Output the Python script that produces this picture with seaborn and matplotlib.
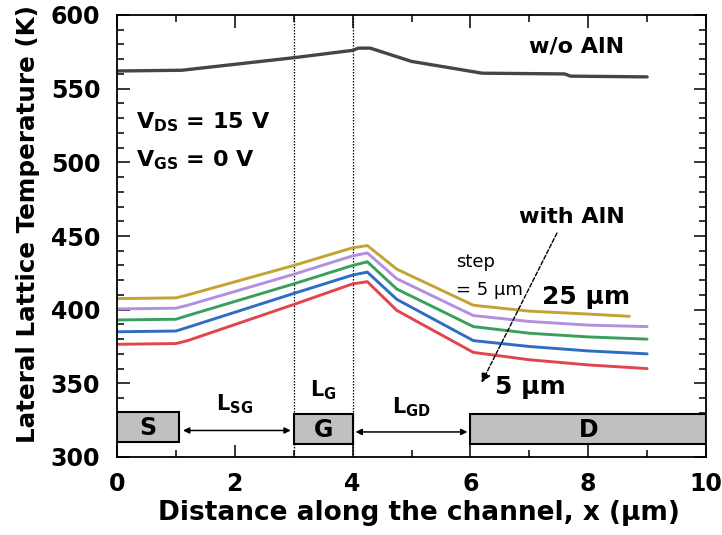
import matplotlib
matplotlib.use("Agg")
import matplotlib.pyplot as plt
from matplotlib.patches import Rectangle
from matplotlib.ticker import MultipleLocator
import numpy as np
import pandas as pd
import seaborn as sns

# Lateral lattice temperature along the channel
x_wo = [0.0, 1.1, 3.0, 4.0, 4.1, 4.3, 5.0, 6.2, 7.6, 7.7, 9.0]
t_wo = [562, 562.5, 571, 576, 577.5, 577.5, 568.5, 560.5, 560, 558.5, 558]

x_aln = [0.0, 1.0, 1.2, 3.0, 4.0, 4.25, 4.75, 6.05, 7.0, 8.0, 9.0]
x_aln_25 = [0.0, 1.0, 1.2, 3.0, 4.0, 4.25, 4.75, 6.05, 7.0, 8.0, 8.7]
t_5um = [376.5, 377, 379, 403.5, 417.5, 419, 399.5, 371, 366, 362.5, 360]
t_10um = [385, 385.5, 388, 411, 423.5, 425.5, 407, 379, 375, 372, 370]
t_15um = [393, 393.5, 396, 417.5, 430, 432.5, 414, 388.5, 384, 381.5, 380]
t_20um = [400.5, 401, 403, 424, 436.5, 438.5, 421, 396, 392, 389.5, 388.5]
t_25um = [407.5, 408, 410, 430, 442, 443.5, 427.5, 403, 399, 397, 395.5]

aln_labels = ["5 µm", "10 µm", "15 µm", "20 µm", "25 µm"]
aln_colors = ["#e0454e", "#2f6dc4", "#3a9e5c", "#b48fe0", "#c4a335"]

# Device regions: source, gate, drain
region_names = ["S", "G", "D"]
region_x0 = [0.0, 3.0, 6.0]
region_x1 = [1.05, 4.0, 10.0]
region_bottom = [310.0, 308.5, 308.5]
region_top = [330.5, 329.5, 329.5]
gate_edges = [3.0, 4.0]

rows = []
for lab, xs, ts in zip(aln_labels,
                       [x_aln, x_aln, x_aln, x_aln, x_aln_25],
                       [t_5um, t_10um, t_15um, t_20um, t_25um]):
    for xv, tv in zip(xs, ts):
        rows.append({"x": xv, "T": tv, "AlN": lab})
df_aln = pd.DataFrame(rows)
df_wo = pd.DataFrame({"x": x_wo, "T": t_wo})

sns.set_theme(style="ticks")
plt.rcParams["font.family"] = ["DejaVu Sans"]
plt.rcParams["font.weight"] = "bold"
plt.rcParams["mathtext.default"] = "bf"
plt.rcParams["text.color"] = "black"
plt.rcParams["axes.labelcolor"] = "black"
plt.rcParams["xtick.color"] = "black"
plt.rcParams["ytick.color"] = "black"
plt.rcParams["xtick.labelcolor"] = "black"
plt.rcParams["ytick.labelcolor"] = "black"

fig = plt.figure(figsize=(7.22, 5.35), dpi=100)
ax = fig.add_axes([117 / 722, 1 - 457 / 535, (706 - 117) / 722, (457 - 15) / 535])

sns.lineplot(data=df_wo, x="x", y="T", color="#454545", lw=2.4,
             sort=False, estimator=None, ax=ax)
sns.lineplot(data=df_aln, x="x", y="T", hue="AlN", hue_order=aln_labels,
             palette=aln_colors, lw=2.1, sort=False, estimator=None,
             legend=False, ax=ax)

for gx in gate_edges:
    ax.axvline(gx, color="black", ls=(0, (1.2, 1.2)), lw=0.9, zorder=1)

for name, x0, x1, y0, y1 in zip(region_names, region_x0, region_x1,
                                region_bottom, region_top):
    ax.add_patch(Rectangle((x0, y0), x1 - x0, y1 - y0, facecolor="#c0c0c0",
                           edgecolor="black", lw=1.5, zorder=3))
    ax.text((x0 + x1) / 2, (y0 + y1) / 2 - 0.5, name, ha="center", va="center",
            fontsize=17, fontweight="bold", zorder=4)

# Spacing arrows between the contacts
arrow_kw = dict(arrowstyle="<|-|>", color="black", lw=1.1,
                mutation_scale=9, shrinkA=0, shrinkB=0)
ax.annotate("", xy=(2.95, 318), xytext=(1.12, 318), arrowprops=arrow_kw)
ax.annotate("", xy=(5.95, 317), xytext=(4.05, 317), arrowprops=arrow_kw)
ax.text(2.0, 335.5, "L$_{SG}$", ha="center", va="center", fontsize=15)
ax.text(3.5, 345.5, "L$_{G}$", ha="center", va="center", fontsize=15)
ax.text(5.0, 333.5, "L$_{GD}$", ha="center", va="center", fontsize=15)

ax.text(0.33, 527.5, "V$_{DS}$ = 15 V", ha="left", va="center", fontsize=16)
ax.text(0.33, 501.5, "V$_{GS}$ = 0 V", ha="left", va="center", fontsize=16)
ax.text(7.0, 578.5, "w/o AlN", ha="left", va="center", fontsize=16)
ax.text(7.73, 463, "with AlN", ha="center", va="center", fontsize=16)
ax.text(5.76, 432.5, "step", ha="left", va="center", fontsize=13,
        fontweight="normal")
ax.text(5.76, 413.5, "= 5 µm", ha="left", va="center", fontsize=13,
        fontweight="normal")
ax.text(7.22, 408.5, "25 µm", ha="left", va="center", fontsize=18)
ax.text(6.41, 347.5, "5 µm", ha="left", va="center", fontsize=18)
ax.annotate("", xy=(6.19, 350.5), xytext=(7.47, 452),
            arrowprops=dict(arrowstyle="-|>", color="black", lw=1.0,
                            ls=(0, (3, 1.5)), mutation_scale=14,
                            shrinkA=0, shrinkB=0))

ax.set_xlim(0, 10)
ax.set_ylim(300, 600)
ax.xaxis.set_major_locator(MultipleLocator(2))
ax.xaxis.set_minor_locator(MultipleLocator(1))
ax.yaxis.set_major_locator(MultipleLocator(50))
ax.yaxis.set_minor_locator(MultipleLocator(10))
ax.tick_params(which="both", direction="in", top=True, right=True,
               color="black", width=1.1)
ax.tick_params(which="major", length=9, labelsize=17, labelcolor="black")
ax.tick_params(which="minor", length=5)
ax.tick_params(axis="y", which="major", pad=12)
ax.tick_params(axis="x", which="major", pad=11)
for lbl in ax.get_xticklabels() + ax.get_yticklabels():
    lbl.set_fontweight("bold")
for sp in ax.spines.values():
    sp.set_color("black")
    sp.set_linewidth(1.3)

ax.set_xlabel("Distance along the channel, x (µm)", fontsize=19,
              fontweight="bold", labelpad=3, color="black")
ax.set_ylabel("Lateral Lattice Temperature (K)", fontsize=17.7,
              fontweight="bold", labelpad=8, color="black")
ax.xaxis.label.set_x(0.513)
ax.yaxis.label.set_y(0.527)

fig.savefig("out.png", dpi=100)
